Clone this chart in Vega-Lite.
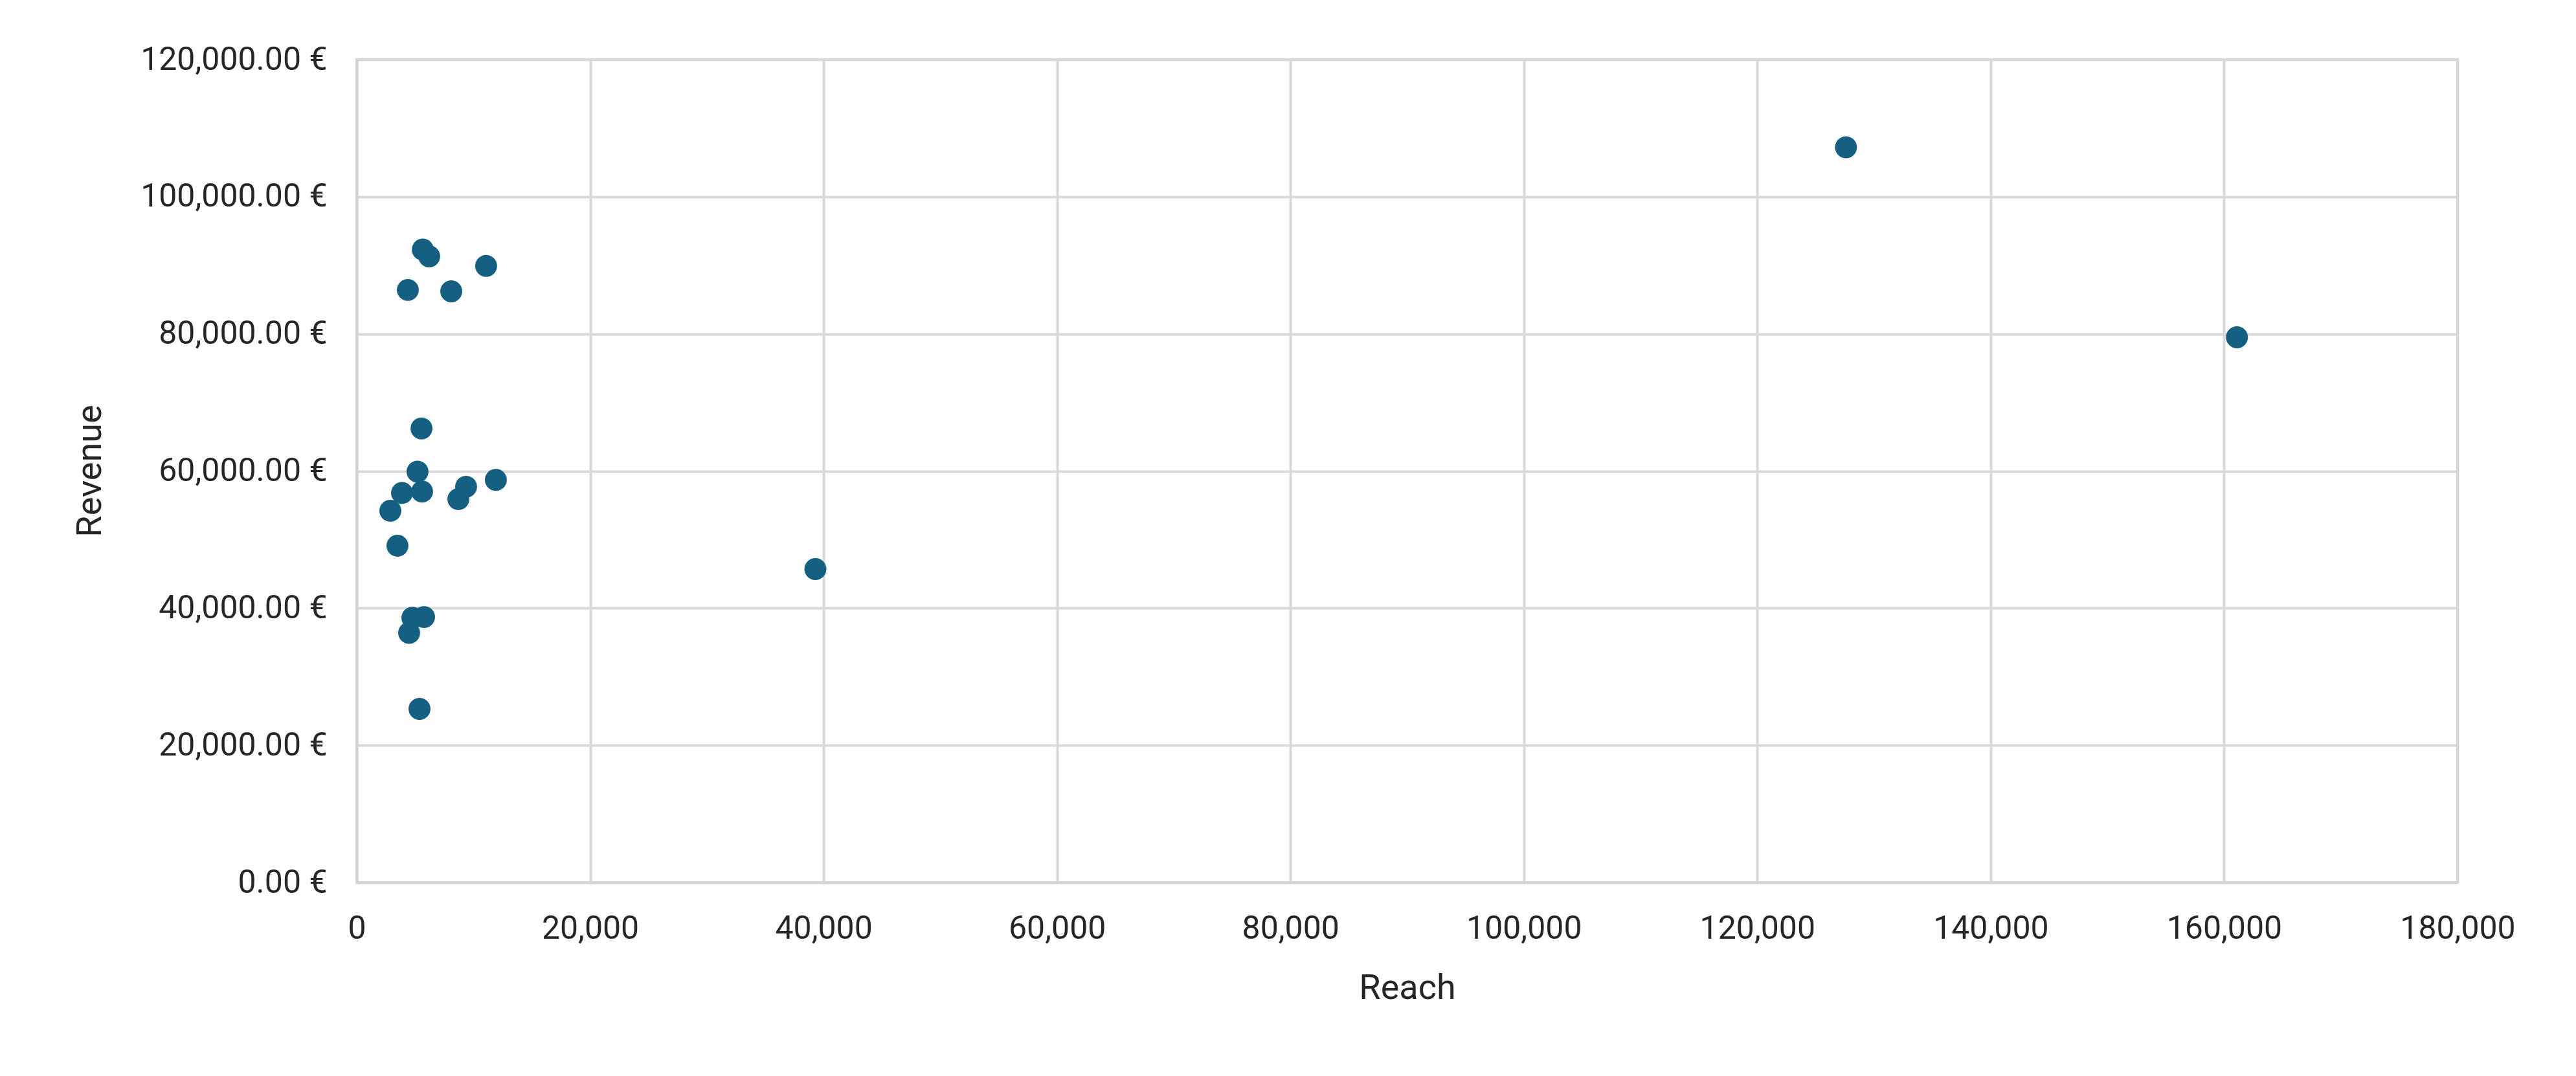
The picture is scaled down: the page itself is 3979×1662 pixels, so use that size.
{
  "$schema": "https://vega.github.io/schema/vega-lite/v6.json",
  "width": 3245,
  "height": 1271,
  "autosize": {"type": "none"},
  "padding": {"left": 551, "top": 92, "right": 183, "bottom": 299},
  "background": "white",
  "data": {
    "values": [
      {"Reach": 5660, "Revenue": 92300},
      {"Reach": 6210, "Revenue": 91300},
      {"Reach": 11090, "Revenue": 89900},
      {"Reach": 4380, "Revenue": 86400},
      {"Reach": 8100, "Revenue": 86200},
      {"Reach": 5550, "Revenue": 66200},
      {"Reach": 5210, "Revenue": 59900},
      {"Reach": 3880, "Revenue": 56800},
      {"Reach": 5600, "Revenue": 57000},
      {"Reach": 9370, "Revenue": 57700},
      {"Reach": 8710, "Revenue": 55900},
      {"Reach": 11920, "Revenue": 58700},
      {"Reach": 2880, "Revenue": 54200},
      {"Reach": 3490, "Revenue": 49100},
      {"Reach": 5770, "Revenue": 38700},
      {"Reach": 4770, "Revenue": 38600},
      {"Reach": 4490, "Revenue": 36400},
      {"Reach": 5380, "Revenue": 25300},
      {"Reach": 39300, "Revenue": 45700},
      {"Reach": 127600, "Revenue": 107200},
      {"Reach": 161100, "Revenue": 79500}
    ]
  },
  "mark": {"type": "circle", "size": 1150, "opacity": 1, "color": "#156082"},
  "encoding": {
    "x": {
      "field": "Reach",
      "type": "quantitative",
      "scale": {"domain": [0, 180000], "nice": false},
      "axis": {
        "title": "Reach",
        "values": [0, 20000, 40000, 60000, 80000, 100000, 120000, 140000, 160000, 180000],
        "format": ",d",
        "labelPadding": 46,
        "titlePadding": 40
      }
    },
    "y": {
      "field": "Revenue",
      "type": "quantitative",
      "scale": {"domain": [0, 120000], "nice": false},
      "axis": {
        "title": "Revenue",
        "values": [0, 20000, 40000, 60000, 80000, 100000, 120000],
        "labelExpr": "format(datum.value, ',.2f') + ' €'",
        "labelPadding": 46,
        "labelLimit": 0,
        "titleX": -385,
        "titleY": 635,
        "titleAngle": -90,
        "titleBaseline": "bottom",
        "titleAlign": "center"
      }
    }
  },
  "config": {
    "view": {"stroke": "#d4d4d4", "strokeWidth": 4},
    "axis": {
      "domainColor": "#d4d4d4",
      "domainWidth": 4,
      "gridColor": "#d9d9d9",
      "gridWidth": 4,
      "ticks": false,
      "labelFlush": false,
      "labelOverlap": false,
      "labelLimit": 0,
      "labelFont": "Roboto",
      "labelFontSize": 50,
      "labelColor": "#262626",
      "titleFont": "Roboto",
      "titleFontSize": 54,
      "titleFontWeight": "normal",
      "titleColor": "#262626"
    }
  }
}
